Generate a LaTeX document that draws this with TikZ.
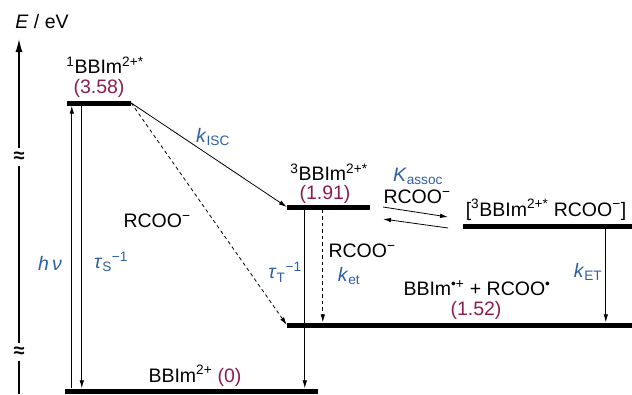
\documentclass[tikz,border=0pt]{standalone}
\usepackage{fontspec}
\setmainfont{Liberation Sans}
\usepackage{tikz}
\usepackage{xcolor}
\usetikzlibrary{arrows.meta}
\definecolor{rateblue}{RGB}{46,95,163}
\definecolor{enpurple}{RGB}{138,30,80}

\begin{document}
\begin{tikzpicture}[x=1pt,y=-1pt,
  level/.style={fill=black,inner sep=0pt,minimum height=5pt},
  arr/.style={line width=0.8pt,-{Latex[length=8pt,width=4.5pt]}},
  lab/.style={font=\fontsize{19.5}{22}\selectfont,inner sep=0pt},
  rate/.style={lab,text=rateblue},
  en/.style={lab,text=enpurple},
  brk/.style={font=\fontsize{20}{20}\bfseries,inner sep=0pt}]
\useasboundingbox (0,0) rectangle (632,394);

% energy axis with breaks
\node[lab] (axlab) at (42,22) {\textit{E} / eV};
\node[brk] (brk1) at (19,157) {≈};
\node[brk] (brk2) at (19,352) {≈};
\coordinate (axbot) at (19,394);
\coordinate (axtop) at (19,39);
\draw[line width=1.3pt] (axbot) -- ([yshift=-9pt]brk2.center);
\draw[line width=1.3pt] ([yshift=9pt]brk2.center) -- ([yshift=-9pt]brk1.center);
\draw[line width=1.3pt,-{Latex[length=13pt,width=7pt]}] ([yshift=9pt]brk1.center) -- (axtop);

% levels
\node[level,minimum width=64pt] (s1) at (99,103) {};
\node[level,minimum width=253pt] (gs) at (191.5,391) {};
\node[level,minimum width=83pt] (t1) at (328.5,207) {};
\node[level,minimum width=169pt] (cx) at (547.5,226) {};
\node[level,minimum width=345pt] (ct) at (459.5,325) {};

% level labels
\node[lab] (s1name) at (105,65) {\textsuperscript{1}BBIm\textsuperscript{2+*}};
\node[en] (s1en) at (99,88) {(3.58)};
\node[lab] (t1name) at (329,172) {\textsuperscript{3}BBIm\textsuperscript{2+*}};
\node[en] (t1en) at (325,194) {(1.91)};
\node[lab] (cxname) at (546,210) {[\textsuperscript{3}BBIm\textsuperscript{2+*} RCOO\textsuperscript{−}]};
\node[lab] (ctname) at (477,288) {BBIm\textsuperscript{•+} + RCOO\textsuperscript{•}};
\node[en] (cten) at (476,310) {(1.52)};
\node[lab] (gsname) at (195,376) {BBIm\textsuperscript{2+} \textcolor{enpurple}{(0)}};

% transitions
\path ([xshift=5pt]s1.south west) coordinate (hnutop);
\path ([xshift=15pt]s1.south west) coordinate (taustop);
\path ([xshift=18pt]t1.south west) coordinate (tauttop);
\path ([xshift=36pt]t1.south west) coordinate (kettop);
\path ([xshift=143pt]cx.south west) coordinate (kETtop);
\draw[arr] (hnutop |- gs.north) -- (hnutop);
\draw[arr] (taustop) -- (taustop |- gs.north);
\draw[arr] (s1.east) -- (t1.west);
\draw[arr,dash pattern=on 3.5pt off 3pt] (s1.east) -- (ct.west);
\draw[arr] (tauttop) -- (tauttop |- gs.north);
\draw[arr,dash pattern=on 3.5pt off 3pt] (kettop) -- (kettop |- ct.north);
\draw[arr] (kETtop) -- (kETtop |- ct.north);

% association equilibrium
\coordinate (eqa) at (383,207);
\coordinate (eqb) at (448,217);
\coordinate (eqc) at (448,228);
\coordinate (eqd) at (383,219);
\draw[arr] (eqa) -- (eqb);
\draw[arr] (eqc) -- (eqd);

% rate labels
\node[rate] (kisc) at (213,137) {\textit{k}\textsubscript{ISC}};
\node[rate] (kassoc) at (418,176) {\textit{K}\textsubscript{assoc}};
\node[lab] (rcooa) at (417,197) {RCOO\textsuperscript{−}};
\node[lab] (rcoob) at (157,221) {RCOO\textsuperscript{−}};
\node[rate] (hnu) at (50,263) {\textit{h\,ν}};
\node[rate] (taus) at (111,262) {\textit{τ}\textsubscript{S}\textsuperscript{−1}};
\node[rate] (taut) at (285,272) {\textit{τ}\textsubscript{T}\textsuperscript{−1}};
\node[lab] (rcooc) at (362,251) {RCOO\textsuperscript{−}};
\node[rate] (ket) at (349,276) {\textit{k}\textsubscript{et}};
\node[rate] (kET) at (588,272) {\textit{k}\textsubscript{ET}};
\end{tikzpicture}
\end{document}
